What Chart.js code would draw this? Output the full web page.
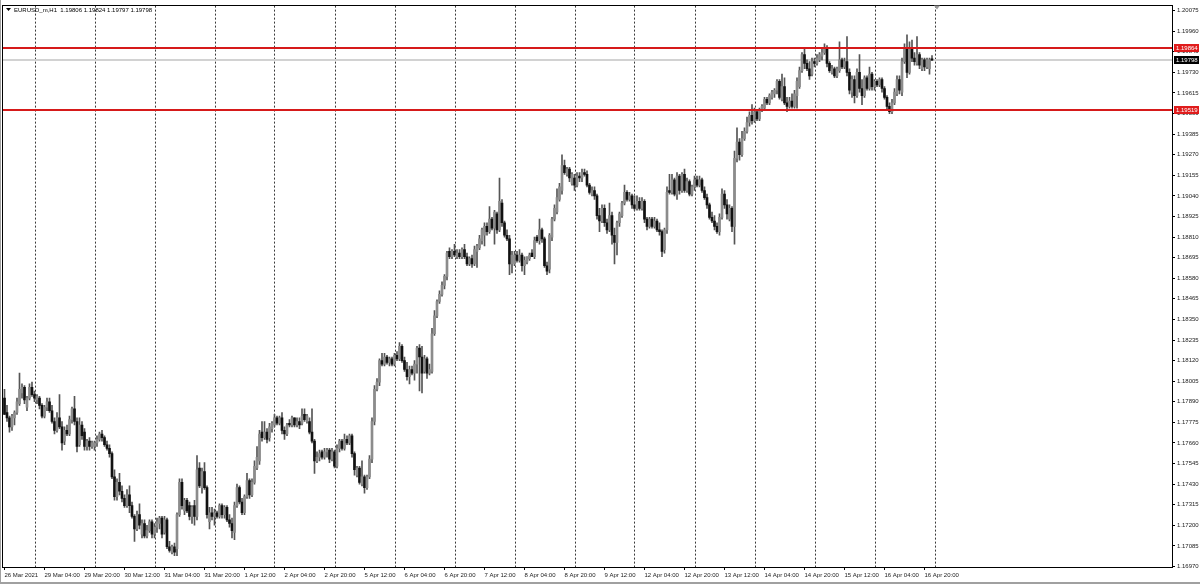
<!DOCTYPE html>
<html>
<head>
<meta charset="utf-8">
<title>EURUSD_m,H1</title>
<script src="https://cdn.jsdelivr.net/npm/chart.js@4.4.1/dist/chart.umd.min.js"></script>
<style>
    html, body { margin: 0; padding: 0; background: #ffffff; }
    #wrap { position: relative; width: 1200px; height: 584px; }
</style>
</head>
<body>
<div id="wrap"><canvas id="chart" width="1200" height="584"></canvas></div>
<script>
// trading days shown on the chart (first one starts at 12:00)
const tradingDays = ['26 Mar', '29 Mar', '30 Mar', '31 Mar', '1 Apr', '2 Apr', '5 Apr', '6 Apr',
    '7 Apr', '8 Apr', '9 Apr', '12 Apr', '13 Apr', '14 Apr', '15 Apr', '16 Apr'];
const firstHour = 12;
const firstLabel = '26 Mar 2021';

// H1 candles
const opens = [
1.1791,1.1783,1.1780,1.1775,1.1780,1.1783,1.1788,1.1794,1.1797,1.1786,1.1791,1.1797,
1.1793,1.1790,1.1791,1.1787,1.1781,1.1786,1.1789,1.1784,1.1778,1.1773,1.1780,1.1775,
1.1767,1.1773,1.1771,1.1779,1.1785,1.1778,1.1765,1.1776,1.1772,1.1764,1.1767,1.1764,
1.1764,1.1766,1.1768,1.1771,1.1769,1.1765,1.1763,1.1760,1.1747,1.1736,1.1744,1.1739,
1.1735,1.1731,1.1737,1.1731,1.1725,1.1718,1.1726,1.1715,1.1721,1.1714,1.1717,1.1722,
1.1715,1.1719,1.1721,1.1724,1.1716,1.1723,1.1708,1.1705,1.1708,1.1707,1.1726,1.1744,
1.1728,1.1734,1.1731,1.1725,1.1731,1.1725,1.1752,1.1741,1.1750,1.1741,1.1722,1.1727,
1.1725,1.1727,1.1725,1.1731,1.1726,1.1730,1.1723,1.1721,1.1716,1.1731,1.1741,1.1733,
1.1727,1.1736,1.1745,1.1737,1.1744,1.1752,1.1756,1.1772,1.1769,1.1772,1.1769,1.1774,
1.1776,1.1780,1.1777,1.1780,1.1773,1.1771,1.1777,1.1776,1.1780,1.1776,1.1778,1.1777,
1.1782,1.1778,1.1778,1.1772,1.1767,1.1756,1.1758,1.1761,1.1758,1.1761,1.1762,1.1757,
1.1761,1.1753,1.1763,1.1767,1.1763,1.1768,1.1766,1.1770,1.1760,1.1748,1.1752,1.1743,
1.1747,1.1741,1.1747,1.1757,1.1778,1.1796,1.1800,1.1812,1.1810,1.1814,1.1811,1.1813,
1.1810,1.1815,1.1813,1.1820,1.1812,1.1807,1.1803,1.1807,1.1805,1.1810,1.1819,1.1814,
1.1806,1.1813,1.1805,1.1806,1.1827,1.1837,1.1845,1.1849,1.1854,1.1859,1.1873,1.1870,
1.1873,1.1870,1.1872,1.1870,1.1874,1.1870,1.1866,1.1869,1.1866,1.1873,1.1875,1.1879,
1.1882,1.1887,1.1884,1.1891,1.1886,1.1894,1.1885,1.1900,1.1889,1.1882,1.1880,1.1866,
1.1866,1.1871,1.1868,1.1871,1.1865,1.1867,1.1869,1.1872,1.1870,1.1881,1.1879,1.1885,
1.1880,1.1865,1.1863,1.1881,1.1891,1.1895,1.1902,1.1907,1.1921,1.1916,1.1919,1.1911,
1.1914,1.1910,1.1915,1.1914,1.1917,1.1916,1.1910,1.1905,1.1907,1.1904,1.1893,1.1890,
1.1897,1.1889,1.1885,1.1893,1.1882,1.1878,1.1889,1.1893,1.1900,1.1906,1.1902,1.1904,
1.1899,1.1897,1.1901,1.1897,1.1901,1.1891,1.1887,1.1891,1.1887,1.1890,1.1885,1.1884,
1.1874,1.1885,1.1907,1.1906,1.1913,1.1905,1.1915,1.1907,1.1916,1.1907,1.1912,1.1905,
1.1909,1.1913,1.1910,1.1913,1.1907,1.1903,1.1899,1.1892,1.1890,1.1887,1.1884,1.1892,
1.1905,1.1899,1.1891,1.1897,1.1887,1.1925,1.1934,1.1927,1.1936,1.1940,1.1945,1.1949,
1.1946,1.1951,1.1947,1.1952,1.1953,1.1958,1.1956,1.1959,1.1961,1.1963,1.1968,1.1958,
1.1965,1.1956,1.1954,1.1957,1.1954,1.1960,1.1965,1.1974,1.1983,1.1978,1.1975,1.1972,
1.1979,1.1978,1.1980,1.1982,1.1984,1.1986,1.1978,1.1973,1.1975,1.1971,1.1974,1.1980,
1.1976,1.1979,1.1973,1.1962,1.1969,1.1960,1.1973,1.1964,1.1960,1.1970,1.1964,1.1972,
1.1965,1.1968,1.1966,1.1969,1.1964,1.1959,1.1954,1.1951,1.1956,1.1961,1.1969,1.1962,
1.1979,1.1987,1.1973,1.1987,1.1981,1.1978,1.1983,1.1975,1.1980,1.1976,1.1975,1.19806
];
const highs = [
1.1796,1.1787,1.1781,1.1782,1.1784,1.1791,1.1805,1.1799,1.1798,1.1792,1.1799,1.1800,
1.1795,1.1793,1.1792,1.1788,1.1787,1.1791,1.1791,1.1787,1.1780,1.1783,1.1793,1.1778,
1.1775,1.1776,1.1781,1.1786,1.1792,1.1780,1.1780,1.1778,1.1774,1.1768,1.1769,1.1767,
1.1767,1.1770,1.1772,1.1773,1.1770,1.1767,1.1765,1.1761,1.1751,1.1746,1.1749,1.1742,
1.1737,1.1740,1.1742,1.1733,1.1726,1.1728,1.1732,1.1723,1.1723,1.1720,1.1723,1.1723,
1.1721,1.1724,1.1725,1.1725,1.1725,1.1724,1.1711,1.1709,1.1710,1.1727,1.1746,1.1746,
1.1735,1.1735,1.1733,1.1731,1.1734,1.1759,1.1755,1.1752,1.1755,1.1742,1.1730,1.1730,
1.1729,1.1728,1.1732,1.1732,1.1731,1.1731,1.1726,1.1724,1.1733,1.1743,1.1742,1.1735,
1.1737,1.1749,1.1746,1.1746,1.1756,1.1764,1.1773,1.1778,1.1778,1.1774,1.1777,1.1778,
1.1782,1.1781,1.1781,1.1783,1.1775,1.1777,1.1779,1.1781,1.1780,1.1780,1.1780,1.1785,
1.1785,1.1782,1.1780,1.1785,1.1768,1.1761,1.1762,1.1762,1.1763,1.1763,1.1763,1.1763,
1.1762,1.1765,1.1768,1.1768,1.1771,1.1770,1.1771,1.1771,1.1761,1.1753,1.1753,1.1756,
1.1748,1.1748,1.1759,1.1780,1.1798,1.1802,1.1813,1.1816,1.1816,1.1815,1.1814,1.1814,
1.1816,1.1817,1.1822,1.1821,1.1814,1.1811,1.1809,1.1809,1.1812,1.1820,1.1821,1.1820,
1.1815,1.1814,1.1810,1.1830,1.1840,1.1846,1.1851,1.1856,1.1860,1.1873,1.1875,1.1874,
1.1877,1.1874,1.1874,1.1875,1.1877,1.1872,1.1870,1.1871,1.1876,1.1877,1.1882,1.1886,
1.1889,1.1889,1.1898,1.1892,1.1896,1.1895,1.1914,1.1902,1.1890,1.1885,1.1882,1.1873,
1.1873,1.1873,1.1874,1.1872,1.1870,1.1870,1.1872,1.1874,1.1881,1.1882,1.1891,1.1886,
1.1881,1.1867,1.1883,1.1892,1.1899,1.1908,1.1911,1.1927,1.1924,1.1920,1.1920,1.1917,
1.1916,1.1917,1.1917,1.1919,1.1919,1.1918,1.1911,1.1909,1.1909,1.1905,1.1897,1.1899,
1.1899,1.1891,1.1900,1.1895,1.1886,1.1890,1.1895,1.1901,1.1910,1.1907,1.1906,1.1905,
1.1904,1.1904,1.1903,1.1903,1.1902,1.1892,1.1892,1.1892,1.1892,1.1891,1.1889,1.1885,
1.1886,1.1909,1.1916,1.1916,1.1914,1.1917,1.1916,1.1917,1.1919,1.1914,1.1913,1.1910,
1.1915,1.1915,1.1915,1.1914,1.1909,1.1905,1.1900,1.1895,1.1893,1.1889,1.1894,1.1908,
1.1907,1.1902,1.1899,1.1898,1.1929,1.1942,1.1936,1.1940,1.1942,1.1948,1.1951,1.1955,
1.1953,1.1952,1.1953,1.1955,1.1959,1.1959,1.1961,1.1963,1.1964,1.1969,1.1969,1.1972,
1.1970,1.1959,1.1959,1.1961,1.1963,1.1970,1.1976,1.1984,1.1986,1.1980,1.1979,1.1981,
1.1981,1.1983,1.1984,1.1986,1.1989,1.1988,1.1979,1.1977,1.1976,1.1976,1.1990,1.1981,
1.1981,1.1993,1.1975,1.1971,1.1971,1.1975,1.1983,1.1969,1.1971,1.1971,1.1976,1.1973,
1.1969,1.1969,1.1970,1.1970,1.1965,1.1960,1.1956,1.1958,1.1964,1.1971,1.1971,1.1981,
1.1989,1.1994,1.1990,1.1991,1.1984,1.1993,1.1984,1.1981,1.1981,1.1981,1.1981,1.19824
];
const lows = [
1.1782,1.1778,1.1772,1.1773,1.1776,1.1782,1.1787,1.1791,1.1788,1.1784,1.1790,1.1792,
1.1789,1.1788,1.1785,1.1780,1.1780,1.1784,1.1783,1.1777,1.1771,1.1772,1.1774,1.1762,
1.1765,1.1770,1.1770,1.1777,1.1776,1.1761,1.1764,1.1768,1.1762,1.1762,1.1762,1.1763,
1.1762,1.1764,1.1767,1.1767,1.1764,1.1762,1.1758,1.1746,1.1734,1.1734,1.1737,1.1733,
1.1730,1.1730,1.1727,1.1724,1.1711,1.1717,1.1718,1.1713,1.1713,1.1713,1.1716,1.1713,
1.1713,1.1716,1.1718,1.1713,1.1715,1.1707,1.1705,1.1704,1.1703,1.1703,1.1725,1.1729,
1.1726,1.1727,1.1723,1.1721,1.1720,1.1723,1.1741,1.1738,1.1740,1.1724,1.1718,1.1723,
1.1720,1.1724,1.1724,1.1724,1.1724,1.1722,1.1719,1.1713,1.1712,1.1730,1.1732,1.1726,
1.1726,1.1735,1.1735,1.1736,1.1743,1.1751,1.1754,1.1767,1.1768,1.1766,1.1767,1.1772,
1.1775,1.1776,1.1776,1.1771,1.1768,1.1770,1.1775,1.1775,1.1775,1.1775,1.1774,1.1776,
1.1778,1.1777,1.1771,1.1766,1.1749,1.1755,1.1756,1.1757,1.1757,1.1758,1.1755,1.1756,
1.1752,1.1752,1.1761,1.1762,1.1762,1.1765,1.1765,1.1758,1.1748,1.1747,1.1743,1.1742,
1.1738,1.1740,1.1746,1.1755,1.1776,1.1795,1.1798,1.1809,1.1809,1.1810,1.1809,1.1809,
1.1809,1.1812,1.1812,1.1811,1.1806,1.1801,1.1799,1.1804,1.1801,1.1805,1.1795,1.1794,
1.1805,1.1802,1.1804,1.1805,1.1826,1.1836,1.1844,1.1848,1.1852,1.1857,1.1869,1.1869,
1.1870,1.1869,1.1869,1.1869,1.1869,1.1865,1.1865,1.1864,1.1865,1.1864,1.1874,1.1877,
1.1876,1.1882,1.1883,1.1885,1.1877,1.1883,1.1884,1.1887,1.1881,1.1879,1.1860,1.1861,
1.1865,1.1867,1.1867,1.1862,1.1860,1.1866,1.1868,1.1870,1.1869,1.1878,1.1877,1.1878,
1.1864,1.1860,1.1861,1.1879,1.1890,1.1894,1.1901,1.1905,1.1916,1.1915,1.1912,1.1910,
1.1907,1.1909,1.1912,1.1912,1.1915,1.1909,1.1905,1.1904,1.1902,1.1891,1.1884,1.1889,
1.1887,1.1883,1.1884,1.1877,1.1866,1.1871,1.1887,1.1892,1.1899,1.1901,1.1901,1.1897,
1.1896,1.1896,1.1896,1.1896,1.1889,1.1885,1.1886,1.1886,1.1886,1.1884,1.1882,1.1870,
1.1872,1.1883,1.1905,1.1905,1.1904,1.1902,1.1905,1.1906,1.1906,1.1906,1.1904,1.1904,
1.1907,1.1909,1.1909,1.1906,1.1902,1.1897,1.1891,1.1889,1.1885,1.1883,1.1882,1.1891,
1.1897,1.1891,1.1890,1.1884,1.1877,1.1923,1.1924,1.1926,1.1935,1.1939,1.1943,1.1944,
1.1945,1.1946,1.1946,1.1951,1.1952,1.1955,1.1955,1.1958,1.1959,1.1961,1.1958,1.1957,
1.1955,1.1951,1.1953,1.1953,1.1953,1.1953,1.1964,1.1973,1.1975,1.1974,1.1969,1.1971,
1.1976,1.1977,1.1979,1.1980,1.1983,1.1976,1.1973,1.1972,1.1970,1.1970,1.1973,1.1975,
1.1975,1.1971,1.1961,1.1959,1.1956,1.1959,1.1962,1.1955,1.1959,1.1963,1.1963,1.1963,
1.1963,1.1965,1.1965,1.1962,1.1958,1.1952,1.1950,1.1950,1.1955,1.1960,1.1961,1.1960,
1.1978,1.1970,1.1972,1.1979,1.1977,1.1977,1.1975,1.1974,1.1974,1.1975,1.1972,1.19797
];
const closes = [
1.1782,1.1780,1.1775,1.1781,1.1783,1.1789,1.1796,1.1797,1.1790,1.1791,1.1797,1.1793,
1.1791,1.1792,1.1787,1.1781,1.1786,1.1789,1.1784,1.1778,1.1773,1.1780,1.1775,1.1766,
1.1773,1.1771,1.1779,1.1785,1.1778,1.1764,1.1776,1.1770,1.1764,1.1767,1.1764,1.1766,
1.1766,1.1768,1.1771,1.1769,1.1765,1.1763,1.1760,1.1747,1.1736,1.1744,1.1739,1.1735,
1.1731,1.1737,1.1731,1.1725,1.1718,1.1726,1.1720,1.1721,1.1714,1.1717,1.1722,1.1715,
1.1719,1.1722,1.1724,1.1715,1.1723,1.1708,1.1706,1.1708,1.1705,1.1726,1.1744,1.1731,
1.1734,1.1728,1.1725,1.1730,1.1725,1.1751,1.1742,1.1750,1.1741,1.1726,1.1727,1.1725,
1.1727,1.1725,1.1731,1.1726,1.1730,1.1723,1.1721,1.1717,1.1731,1.1741,1.1733,1.1727,
1.1736,1.1745,1.1737,1.1744,1.1753,1.1758,1.1771,1.1769,1.1772,1.1768,1.1775,1.1777,
1.1780,1.1777,1.1780,1.1773,1.1771,1.1776,1.1776,1.1780,1.1776,1.1778,1.1776,1.1781,
1.1779,1.1781,1.1772,1.1767,1.1756,1.1758,1.1760,1.1758,1.1761,1.1762,1.1757,1.1761,
1.1753,1.1763,1.1767,1.1763,1.1768,1.1766,1.1770,1.1760,1.1751,1.1752,1.1744,1.1747,
1.1741,1.1747,1.1757,1.1778,1.1796,1.1800,1.1812,1.1810,1.1814,1.1811,1.1813,1.1810,
1.1815,1.1813,1.1820,1.1812,1.1807,1.1803,1.1807,1.1805,1.1810,1.1819,1.1814,1.1805,
1.1813,1.1805,1.1807,1.1827,1.1837,1.1845,1.1849,1.1854,1.1859,1.1872,1.1870,1.1873,
1.1871,1.1872,1.1870,1.1874,1.1870,1.1866,1.1869,1.1866,1.1874,1.1876,1.1880,1.1885,
1.1887,1.1884,1.1891,1.1886,1.1895,1.1885,1.1901,1.1889,1.1882,1.1880,1.1866,1.1871,
1.1871,1.1868,1.1871,1.1865,1.1868,1.1870,1.1871,1.1870,1.1879,1.1879,1.1885,1.1880,
1.1865,1.1862,1.1882,1.1891,1.1897,1.1903,1.1909,1.1921,1.1917,1.1919,1.1914,1.1916,
1.1910,1.1915,1.1914,1.1917,1.1916,1.1910,1.1906,1.1907,1.1904,1.1893,1.1890,1.1897,
1.1889,1.1885,1.1893,1.1882,1.1878,1.1889,1.1894,1.1900,1.1906,1.1902,1.1904,1.1899,
1.1897,1.1901,1.1897,1.1901,1.1891,1.1887,1.1891,1.1887,1.1890,1.1885,1.1884,1.1873,
1.1885,1.1906,1.1906,1.1913,1.1905,1.1915,1.1907,1.1916,1.1907,1.1912,1.1905,1.1909,
1.1913,1.1910,1.1913,1.1907,1.1903,1.1899,1.1892,1.1890,1.1887,1.1884,1.1892,1.1905,
1.1899,1.1894,1.1897,1.1887,1.1925,1.1934,1.1927,1.1936,1.1940,1.1945,1.1949,1.1946,
1.1951,1.1947,1.1952,1.1954,1.1958,1.1956,1.1960,1.1962,1.1963,1.1968,1.1959,1.1965,
1.1956,1.1954,1.1957,1.1954,1.1961,1.1968,1.1974,1.1983,1.1978,1.1975,1.1971,1.1979,
1.1978,1.1981,1.1983,1.1984,1.1986,1.1978,1.1974,1.1975,1.1971,1.1975,1.1980,1.1976,
1.1979,1.1973,1.1963,1.1969,1.1960,1.1973,1.1964,1.1960,1.1970,1.1964,1.1972,1.1965,
1.1968,1.1966,1.1969,1.1964,1.1959,1.1954,1.1951,1.1956,1.1962,1.1969,1.1963,1.1979,
1.1987,1.1973,1.1987,1.1981,1.1979,1.1983,1.1977,1.1980,1.1976,1.1980,1.1980,1.19798
];

// price scale labels on the right
const priceTicks = [1.20075, 1.19960, 1.19845, 1.19730, 1.19615, 1.19500, 1.19385, 1.19270,
    1.19155, 1.19040, 1.18925, 1.18810, 1.18695, 1.18580, 1.18465, 1.18350, 1.18235, 1.18120,
    1.18005, 1.17890, 1.17775, 1.17660, 1.17545, 1.17430, 1.17315, 1.17200, 1.17085, 1.16970];
const priceMin = 1.16967;
const priceMax = 1.20103;

// horizontal levels drawn by hand + current bid
const levels = [1.19864, 1.19519];
const bid = 1.19798;
const headerText = 'EURUSD_m,H1  1.19806 1.19824 1.19797 1.19798';

const barsVisible = 467.6;     // empty space to the right (chart shift)
const labelStep = 16;          // one time label every 16 bars

const FONT = '"Liberation Sans", Arial, sans-serif';
const FONT_SIZE = 6;

// hourly categories
const timeLabels = [];
tradingDays.forEach((day, d) => {
    for (let h = d === 0 ? firstHour : 0; h < 24; h++) {
        timeLabels.push(day + ' ' + String(h).padStart(2, '0') + ':00');
    }
});

// bar index of each day start (+ the next one after the last bar)
const daySeparators = [];
timeLabels.forEach((t, i) => { if (t.endsWith(' 00:00')) daySeparators.push(i); });
daySeparators.push(timeLabels.length);

const labelTicks = [];
for (let i = 0; i < timeLabels.length; i += labelStep) labelTicks.push(i);

function xLabel(i) {
    if (i === 0) return firstLabel;
    return timeLabels[i] || '';
}

const isUp = closes.map((c, i) => c >= opens[i]);
const wickData = timeLabels.map((t, i) => ({ x: i, y: [lows[i], highs[i]] }));
const bodyData = timeLabels.map((t, i) => ({ x: i, y: [opens[i], closes[i]] }));

function crisp(v) { return Math.round(v) + 0.5; }

const mt4Overlay = {
    id: 'mt4Overlay',
    beforeDatasetsDraw(chart) {
        const { ctx, chartArea: a, scales: { x, y } } = chart;
        ctx.save();
        // period separators
        ctx.strokeStyle = '#3a3a3a';
        ctx.lineWidth = 1;
        ctx.setLineDash([2, 2]);
        daySeparators.forEach(i => {
            const px = crisp(x.getPixelForValue(i));
            ctx.beginPath();
            ctx.moveTo(px, a.top);
            ctx.lineTo(px, a.bottom);
            ctx.stroke();
        });
        ctx.setLineDash([]);
        // bid line
        ctx.strokeStyle = '#d2d2d2';
        ctx.lineWidth = 2;
        const by = Math.round(y.getPixelForValue(bid));
        ctx.beginPath();
        ctx.moveTo(a.left, by);
        ctx.lineTo(a.right, by);
        ctx.stroke();
        ctx.restore();
    },
    afterDraw(chart) {
        const { ctx, chartArea: a, scales: { x, y } } = chart;
        ctx.save();

        // frame around the plot
        ctx.strokeStyle = '#000';
        ctx.lineWidth = 1;
        ctx.strokeRect(crisp(a.left) - 1, crisp(a.top) - 1, Math.round(a.right - a.left) + 1, Math.round(a.bottom - a.top) + 1);

        // red levels
        ctx.strokeStyle = '#d61a1a';
        ctx.lineWidth = 2;
        levels.forEach(p => {
            const py = Math.round(y.getPixelForValue(p));
            ctx.beginPath();
            ctx.moveTo(a.left, py);
            ctx.lineTo(a.right, py);
            ctx.stroke();
        });

        // price tags on the axis
        ctx.font = FONT_SIZE + 'px ' + FONT;
        ctx.textBaseline = 'middle';
        ctx.textAlign = 'left';
        const tag = (p, bg) => {
            const py = Math.round(y.getPixelForValue(p));
            ctx.fillStyle = bg;
            ctx.fillRect(a.right + 2, py - 4, 25, 8);
            ctx.fillStyle = '#fff';
            ctx.fillText(p.toFixed(5), a.right + 4, py);
        };
        levels.forEach(p => tag(p, '#e01c1c'));
        tag(bid, '#000');

        // chart shift marker
        const sx = Math.round(x.getPixelForValue(timeLabels.length)) + 2;
        ctx.fillStyle = '#9a9a9a';
        ctx.beginPath();
        ctx.moveTo(sx - 3, a.top);
        ctx.lineTo(sx + 3, a.top);
        ctx.lineTo(sx, a.top + 4);
        ctx.closePath();
        ctx.fill();

        // symbol header
        ctx.fillStyle = '#000';
        ctx.beginPath();
        ctx.moveTo(6, 8);
        ctx.lineTo(11, 8);
        ctx.lineTo(8.5, 11);
        ctx.closePath();
        ctx.fill();
        ctx.textBaseline = 'middle';
        ctx.fillText(headerText, 14, 10);

        // window edges
        ctx.fillStyle = '#a0a0a0';
        ctx.fillRect(0, 0, 1, 584);
        ctx.fillRect(0, 582, 1200, 2);
        ctx.restore();
    }
};

const ctx = document.getElementById('chart').getContext('2d');

new Chart(ctx, {
    type: 'bar',
    data: {
        datasets: [
            {
                label: 'wicks',
                data: wickData,
                backgroundColor: '#555555',
                barThickness: 1,
                grouped: false,
                order: 2
            },
            {
                label: 'bodies',
                data: bodyData,
                backgroundColor: isUp.map(u => u ? '#8c8c8c' : '#111111'),
                barThickness: 2,
                minBarLength: 1,
                grouped: false,
                order: 1
            }
        ]
    },
    options: {
        responsive: false,
        animation: false,
        devicePixelRatio: 1,
        events: [],
        layout: { padding: { left: 3, top: 3, right: 0, bottom: 0 } },
        plugins: {
            legend: { display: false },
            tooltip: { enabled: false }
        },
        scales: {
            x: {
                type: 'linear',
                position: 'bottom',
                offset: false,
                min: -0.6,
                max: barsVisible - 0.6,
                afterBuildTicks: scale => { scale.ticks = labelTicks.map(v => ({ value: v })); },
                afterFit: scale => { scale.height = 17; },
                grid: {
                    offset: false,
                    drawOnChartArea: false,
                    drawTicks: true,
                    tickLength: 3,
                    tickColor: '#000'
                },
                border: { display: true, color: '#000' },
                ticks: {
                    autoSkip: false,
                    maxRotation: 0,
                    align: 'start',
                    padding: 2,
                    color: '#222',
                    font: { family: FONT, size: FONT_SIZE },
                    callback: value => xLabel(value)
                }
            },
            y: {
                type: 'linear',
                position: 'right',
                min: priceMin,
                max: priceMax,
                afterBuildTicks: scale => { scale.ticks = priceTicks.map(v => ({ value: v })); },
                afterFit: scale => { scale.width = 28; },
                grid: {
                    drawOnChartArea: false,
                    drawTicks: true,
                    tickLength: 3,
                    tickColor: '#000'
                },
                border: { display: true, color: '#000' },
                ticks: {
                    padding: 2,
                    color: '#222',
                    font: { family: FONT, size: FONT_SIZE },
                    callback: value => Number(value).toFixed(5)
                }
            }
        }
    },
    plugins: [mt4Overlay]
});
</script>
</body>
</html>
